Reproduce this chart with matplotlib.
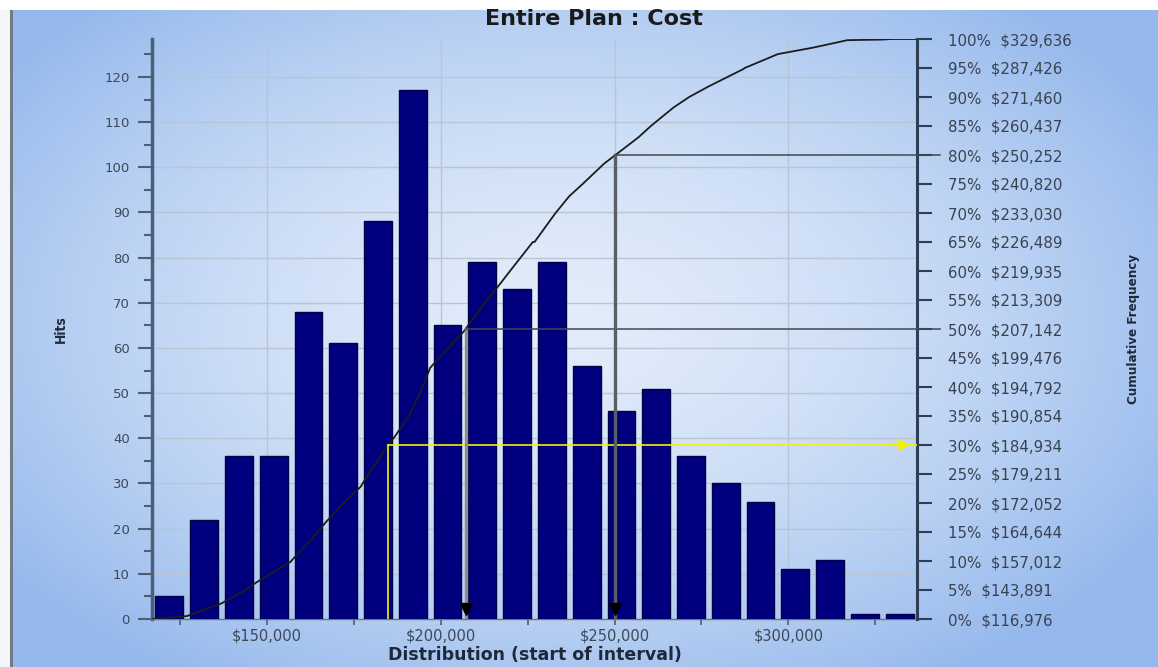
import numpy as np
import matplotlib
matplotlib.use("Agg")
import matplotlib.pyplot as plt
import matplotlib.transforms as mtransforms
from matplotlib.ticker import MultipleLocator, FixedLocator

# ---------------- data ----------------
title = "Entire Plan : Cost"
x_label = "Distribution (start of interval)"
y_label = "Hits"
y2_label = "Cumulative Frequency"

first_bin_start = 116976
bin_width = 10000
hits = [5, 22, 36, 36, 68, 61, 88, 117, 65, 79, 73, 79, 56, 46, 51, 36, 30, 26, 11, 13, 1, 1]

pct_levels = [0, 5, 10, 15, 20, 25, 30, 35, 40, 45, 50, 55, 60, 65, 70, 75, 80, 85, 90, 95, 100]
pct_values = [116976, 143891, 157012, 164644, 172052, 179211, 184934, 190854, 194792, 199476,
              207142, 213309, 219935, 226489, 233030, 240820, 250252, 260437, 271460, 287426, 329636]

x_major_ticks = [150000, 200000, 250000, 300000]
x_minor_ticks = [125000, 175000, 225000, 275000, 325000]
marked_pcts = [30, 50, 80]

# ---------------- figure ----------------
W, H = 1158, 667
fig = plt.figure(figsize=(W / 100, H / 100), dpi=100)

# background gradient
bg = fig.add_axes([0, 0, 1, 1], zorder=-10)
yy, xx = np.mgrid[0:H, 0:W]
d = np.sqrt(((xx - 560) / 700.0) ** 2 + ((yy - 320) / 430.0) ** 2)
t = np.clip(d, 0, 1) ** 1.6
c_center = np.array([226, 236, 250]) / 255.0
c_edge = np.array([148, 184, 236]) / 255.0
img = c_center[None, None, :] * (1 - t[..., None]) + c_edge[None, None, :] * t[..., None]
img[:, :10, :] = np.array([0.96, 0.97, 0.98])
img[:, 10:13, :] = np.array([0.45, 0.48, 0.52])
img[:10, :, :] = 1.0
bg.imshow(img, extent=[0, W, H, 0], aspect="auto", interpolation="bilinear")
bg.set_xlim(0, W)
bg.set_ylim(H, 0)
bg.axis("off")

L, R, T, B = 152, 917, 39, 619
ax = fig.add_axes([L / W, 1 - B / H, (R - L) / W, (B - T) / H])
ax.set_facecolor("none")

edges = first_bin_start + bin_width * np.arange(len(hits))
centers = edges + bin_width / 2
x_min = first_bin_start
x_max = first_bin_start + bin_width * len(hits)

ax.bar(centers, hits, width=bin_width * 0.8, color="#00007e", edgecolor="#000046",
       linewidth=1.0, zorder=3)

ax.set_xlim(x_min, x_max)
ax.set_ylim(0, 128.4)
ax.yaxis.set_major_locator(MultipleLocator(10))
ax.yaxis.set_minor_locator(MultipleLocator(5))
ax.set_yticks(np.arange(0, 121, 10))
ax.xaxis.set_major_locator(FixedLocator(x_major_ticks))
ax.xaxis.set_minor_locator(FixedLocator(x_minor_ticks))
ax.set_xticklabels([f"${v:,}" for v in x_major_ticks])

ax.set_axisbelow(True)
ax.grid(True, which="major", axis="both", color="#bac4d2", linewidth=1.0, zorder=0)

for s in ["top", "right"]:
    ax.spines[s].set_visible(False)
ax.spines["left"].set_color("#4c5f7a")
ax.spines["left"].set_linewidth(2.5)
ax.spines["bottom"].set_color("#6b7a70")
ax.spines["bottom"].set_linewidth(1.0)

tick_col = "#3e4858"
ax.tick_params(axis="y", which="major", length=10, width=1.5, color="#4c5f7a",
               labelsize=9.5, labelcolor=tick_col, pad=6)
ax.tick_params(axis="y", which="minor", length=6, width=1.5, color="#4c5f7a")
ax.tick_params(axis="x", which="both", length=4, width=1.2, color="#4c5f7a",
               labelsize=10.5, labelcolor=tick_col, pad=3)

ax.set_xlabel(x_label, fontsize=12.5, fontweight="bold", color="#1e2a3c", labelpad=2)
ax.set_ylabel(y_label, fontsize=10, fontweight="bold", color="#1e2a3c", labelpad=26,
              fontstretch="condensed")

# ---------------- cumulative axis ----------------
ax2 = ax.twinx()
ax2.set_ylim(0, 100)
ax2.set_xlim(x_min, x_max)
ax2.set_yticks(pct_levels)
ax2.set_yticklabels([f"{p}%  ${v:,}" for p, v in zip(pct_levels, pct_values)])
ax2.tick_params(axis="y", length=11, width=1.5, color="#2f3e55", labelsize=10.8,
                labelcolor="#3a4250", pad=11)
for s in ["top", "left", "bottom"]:
    ax2.spines[s].set_visible(False)
ax2.spines["right"].set_color("#2f3e55")
ax2.spines["right"].set_linewidth(2.2)
ax2.set_ylabel(y2_label, fontsize=9.5, fontweight="bold", color="#1e2a3c",
               rotation=90, labelpad=40, fontstretch="condensed")

# cumulative curve: bin-end cumulative counts merged with the percentile readings
total = float(sum(hits))
cum_x = np.concatenate([[first_bin_start], edges + bin_width])
cum_y = np.concatenate([[0.0], np.cumsum(hits) / total * 100.0])
px = np.concatenate([cum_x, np.array(pct_values, dtype=float)])
py = np.concatenate([cum_y, np.array(pct_levels, dtype=float)])
order = np.lexsort((py, px))
ax2.plot(px[order], py[order], color="#1c1c1c", linewidth=1.3, zorder=5)

blend = mtransforms.blended_transform_factory(ax2.transAxes, ax2.transData)
for p in marked_pcts:
    v = pct_values[pct_levels.index(p)]
    if p == 30:
        col = "#f2f200"
        ax2.plot([v, x_max], [p, p], color=col, linewidth=1.2, zorder=6)
        ax2.plot([v, v], [0, p], color=col, linewidth=1.2, zorder=6)
        ax2.annotate("", xy=(0.995, p), xycoords=blend, xytext=(0.955, p), textcoords=blend,
                     arrowprops=dict(arrowstyle="-|>", color=col, lw=1.5, mutation_scale=16),
                     zorder=7)
    else:
        hcol = "#404850"
        vcol = "#8c8c8c" if p == 50 else "#5a5f66"
        ax2.plot([v, v], [0, p], color=vcol, linewidth=2.4, zorder=6)
        ax2.plot([v, x_max], [p, p], color=hcol, linewidth=1.1, zorder=6)
        ax2.plot([1.0, 1.03], [p, p], color=hcol, linewidth=1.1, transform=blend,
                 clip_on=False, zorder=6)
        ax2.plot([v], [1.8], marker="v", color="black", markersize=8, zorder=7)

fig.text(594 / W, 1 - 19 / H, title, ha="center", va="center",
         fontsize=16, fontweight="bold", color="#1a1a1a")

fig.savefig("out.png", dpi=100)
